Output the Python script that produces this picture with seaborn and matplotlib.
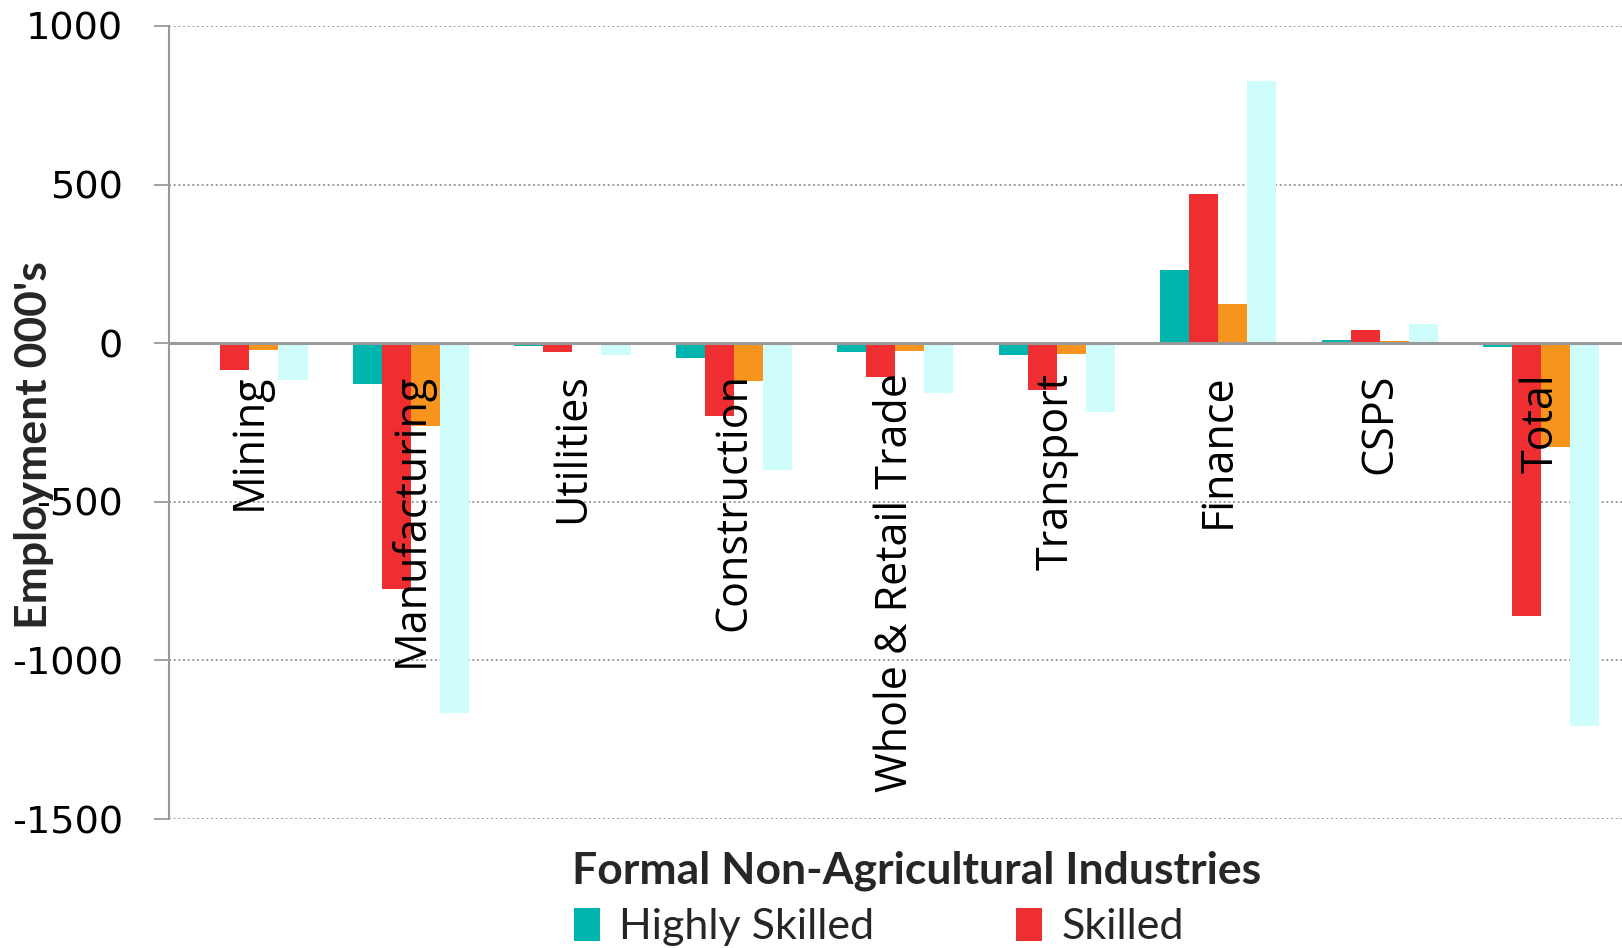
import matplotlib
matplotlib.use("Agg")
import matplotlib.pyplot as plt
import seaborn as sns
import pandas as pd

# Change in formal non-agricultural employment (thousands) by skill level
industries = ["Mining", "Manufacturing", "Utilities", "Construction",
              "Whole & Retail Trade", "Transport", "Finance", "CSPS", "Total"]
series_names = ["Highly Skilled", "Skilled", "Semi and Unskilled", "Total"]
highly_skilled = [-5, -130, -8, -48, -27, -36, 231, 10, -13]
skilled = [-85, -775, -27, -230, -107, -146, 469, 42, -859]
semi_unskilled = [-20, -260, 0, -120, -25, -33, 124, 6, -328]
total = [-115, -1165, -38, -400, -157, -218, 827, 59, -1207]
y_ticks = [1000, 500, 0, -500, -1000, -1500]

colors = ["#00B5AD", "#EE2E31", "#F7941E", "#CFFDFC"]

rows = []
for name, vals in zip(series_names, [highly_skilled, skilled, semi_unskilled, total]):
    for ind, v in zip(industries, vals):
        rows.append({"Industry": ind, "Series": name, "Value": v})
df = pd.DataFrame(rows)

sns.set_theme(style="white")
plt.rcParams["font.family"] = ["DejaVu Sans"]

fig = plt.figure(figsize=(16.22, 9.48), dpi=100)
ax = fig.add_axes([0.104, 0.136, 0.896, 0.8366])

sns.barplot(data=df, x="Industry", y="Value", hue="Series", order=industries,
            hue_order=series_names, palette=colors, width=0.72, gap=0,
            saturation=1, errorbar=None, ax=ax, legend=True)
for p in ax.patches:
    p.set_edgecolor("none")

ax.set_ylim(-1500, 1000)
ax.set_xlim(-0.5, len(industries) - 0.5)
ax.set_yticks(y_ticks)
ax.set_yticklabels([str(t) for t in y_ticks], fontsize=27.5, color="black")
ax.tick_params(axis="y", direction="out", length=11, width=1.3, color="#999999",
               left=True, pad=22)
ax.tick_params(axis="x", bottom=False, labelbottom=False)

# dotted gridlines and solid zero line
for t in y_ticks:
    if t != 0:
        ax.axhline(t, color="#8c8c8c", lw=1.2, ls=(0, (1.2, 1.6)), zorder=0)
ax.axhline(0, color="#999999", lw=2.2, zorder=3)

for side in ["top", "right", "bottom"]:
    ax.spines[side].set_visible(False)
ax.spines["left"].set_color("#999999")
ax.spines["left"].set_linewidth(1.5)

# category labels drawn just under the zero line
for i, ind in enumerate(industries):
    ax.text(i, -95, ind, rotation=90, ha="center", va="top", fontsize=31,
            family="Open Sans", color="black", zorder=5)

ax.set_xlabel("")
ax.set_ylabel("")
fig.text(0.021, 0.53, "Employment 000's", rotation=90, ha="center", va="center",
         fontsize=32, fontweight="bold", family="Lato")
fig.text(0.565, 0.081, "Formal Non-Agricultural Industries", ha="center",
         va="center", fontsize=32, fontweight="bold", family="Lato")

handles, labels = ax.get_legend_handles_labels()
ax.get_legend().remove()
fig.legend(handles[:2], labels[:2], loc="center", bbox_to_anchor=(0.542, 0.022),
           ncol=2, frameon=False, prop={"family": "Lato", "size": 31},
           handlelength=0.6, handleheight=0.8, handletextpad=0.45,
           columnspacing=3.3)

fig.savefig("out.png", dpi=100)
